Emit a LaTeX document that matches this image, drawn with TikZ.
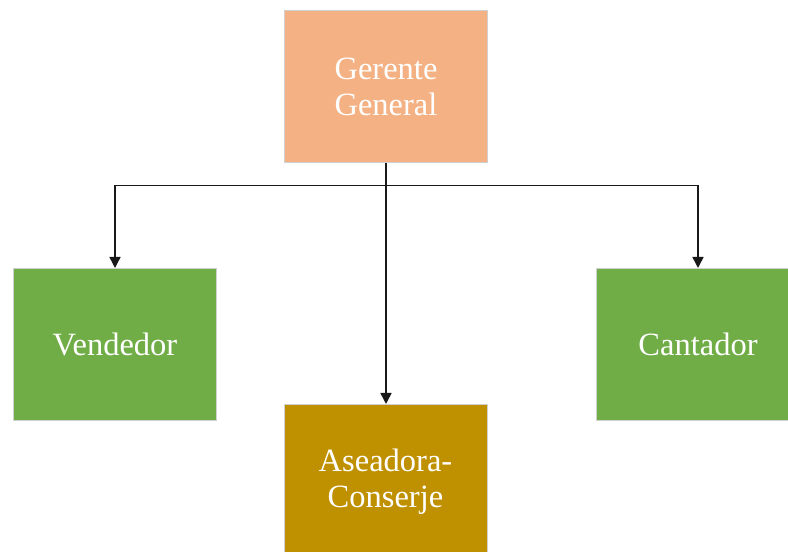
\documentclass[tikz,border=0pt]{standalone}
\usepackage{fontspec}
\setmainfont{Liberation Serif}
\usetikzlibrary{arrows.meta,calc}
\definecolor{salmon}{HTML}{F4B183}
\definecolor{leaf}{HTML}{70AD47}
\definecolor{ochre}{HTML}{BF9000}
\definecolor{edgegray}{HTML}{D0D0D0}
\begin{document}
\begin{tikzpicture}[x=1pt,y=1pt,
  role/.style={draw=edgegray, line width=1pt, minimum width=203pt, minimum height=152pt,
    inner sep=0pt, text=white, align=center,
    font=\fontsize{32.5pt}{36pt}\selectfont},
  label/.style={text=white, align=center, font=\fontsize{32.5pt}{36pt}\selectfont},
  link/.style={line width=1.5pt, draw=black!90},
  tip/.style={-{Triangle[width=11pt,length=11pt]}}]
\useasboundingbox (0,0) rectangle (788,552);
\clip (0,0) rectangle (788,552);
% boxes of the chart
\node[role, fill=salmon, anchor=north west] (g) at (284,542) {Gerente\\General};
\node[role, fill=leaf, anchor=north west] (v) at (13,284) {Vendedor};
\node[role, fill=leaf, anchor=north west] (c) at (596,284) {Cantador};
\node[role, fill=ochre, anchor=north west] (a) at (284,148) {};
\node[label] (at) at (385.5,70) {Aseadora-\\Conserje};
% connectors
\coordinate (j) at ($(g.south)+(0,-22.5)$);
\draw[link] (g.south) -- (j);
\draw[link, tip] (j) -| (v.north);
\draw[link, tip] (j) -| (c.north);
\draw[link, tip] (j) -- (a.north);
\end{tikzpicture}
\end{document}
